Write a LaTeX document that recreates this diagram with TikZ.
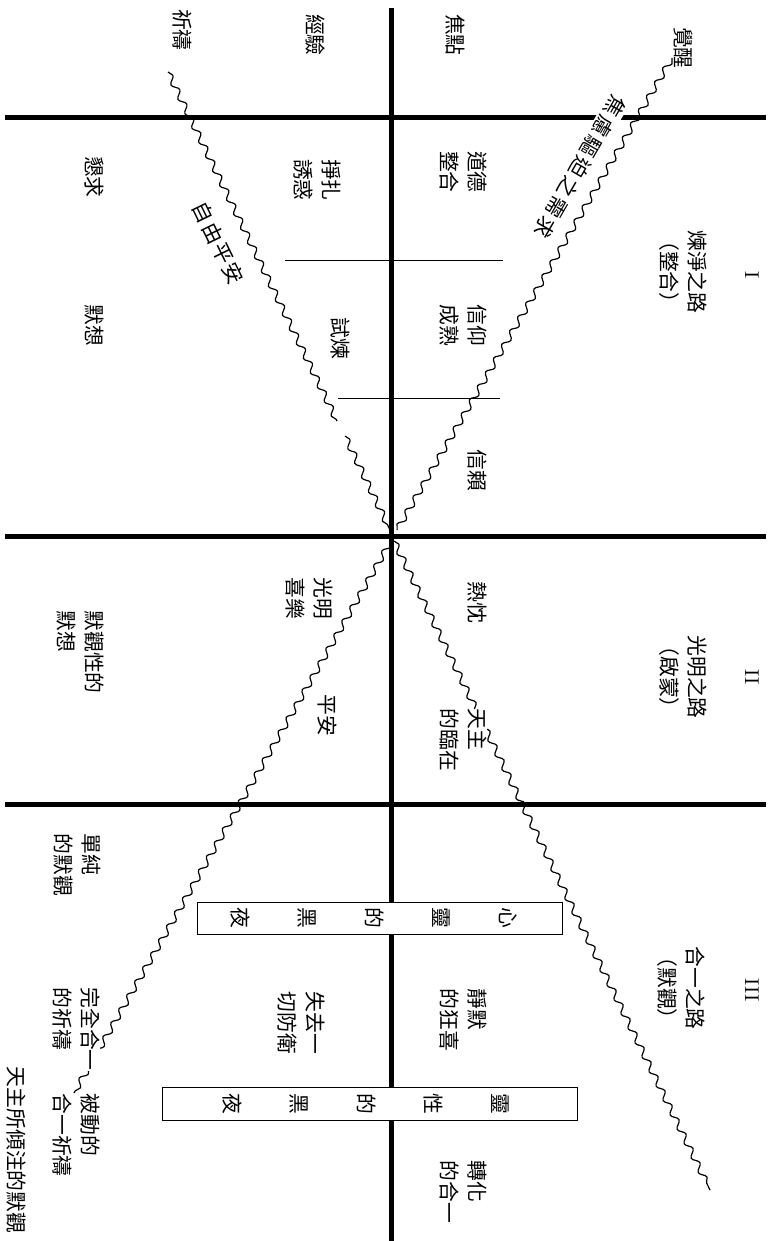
\documentclass[tikz,border=0pt]{standalone}
\usepackage{fontspec}
\newfontfamily\cjk{Noto Sans CJK TC}
\usetikzlibrary{decorations.pathmorphing}

\begin{document}
\begin{tikzpicture}[x=0.5pt, y=-0.5pt,
    bar/.style={line width=2.5pt},
    wave/.style={line width=0.6pt, decorate, decoration={snake, segment length=8pt, amplitude=1.5pt}},
    txt/.style={font=\cjk\fontsize{10.4}{14}\selectfont, inner sep=0pt},
    lbl/.style={txt, rotate=-90, align=left},
    num/.style={rotate=-90, font=\fontsize{10}{12}\selectfont, inner sep=0pt},
    nightbox/.style={rotate=-90, draw, line width=0.5pt, fill=white, inner sep=0pt},
    night/.style={rotate=-90, font=\cjk\fontsize{10.4}{33.5}\selectfont, align=center, inner sep=0pt}]
    \useasboundingbox (0,0) rectangle (769,1241);
    \draw[bar] (5,118) -- (766,118);
    \draw[bar] (5,536) -- (766,536);
    \draw[bar] (5,804) -- (766,804);
    \draw[bar] (391,8) -- (391,1241);
    \draw[line width=0.5pt] (285,260) -- (503,260);
    \draw[line width=0.4pt] (338,398) -- (500,398);
    \coordinate (ulA) at (168,72);
    \coordinate (ulB) at (337,421);
    \coordinate (ulC) at (345,436);
    \coordinate (ulD) at (390,530);
    \coordinate (urA) at (672,58);
    \coordinate (urB) at (397,530);
    \coordinate (llA) at (391,541);
    \coordinate (llB) at (74,1093);
    \coordinate (lrA) at (394,541);
    \coordinate (lrB) at (710,1190);
    \draw[wave] (ulA) -- (ulB);
    \draw[wave] (ulC) -- (ulD);
    \draw[wave] (urA) -- (urB);
    \draw[wave] (llA) -- (llB);
    \draw[wave] (lrA) -- (lrB);

    \node[lbl] (qidao) at (182,30) {祈禱};
    \node[lbl] (jingyan) at (315,35) {經驗};
    \node[lbl] (jiaodian) at (455,35) {焦點};
    \node[lbl] (juexing) at (683,48) {覺醒};
    \node[lbl] (kenqiu) at (94,177) {懇求};
    \node[lbl] (moxiang) at (94,325) {默想};
    \node[lbl] (zhengzha) at (317,180) {掙扎\\誘惑};
    \node[lbl] (shilian) at (340,338) {試煉};
    \node[lbl] (daode) at (463,172) {道德\\整合};
    \node[lbl] (xinyang) at (463,325) {信仰\\成熟};
    \node[lbl] (lianjing) at (683,272) {煉淨之路\\（整合）};
    \node[num] (one) at (752,275) {I};
    \node[txt, rotate=-120, fill=white, inner sep=1pt] (jiaolv) at (580,167) {\addfontfeature{LetterSpace=12}焦慮驅迫之需求};
    \node[txt, rotate=-64] (ziyou) at (218,243) {\addfontfeature{LetterSpace=8}自由平安};

    \node[lbl] (xinlai) at (477,470) {信賴};
    \node[lbl] (guangming) at (309,598) {光明\\喜樂};
    \node[lbl] (moguanxing) at (80,652) {默觀性的\\默想};
    \node[lbl] (rexin) at (477,602) {熱忱};
    \node[lbl] (pingan) at (327,715) {平安};
    \node[lbl, fill=white] (tianzhu) at (463,740) {天主\\的臨在};
    \node[lbl] (guangmingzhilu) at (683,677) {光明之路\\（啟蒙）};
    \node[num] (two) at (752,677) {II};

    \node[lbl] (danchun) at (77,865) {單純\\的默觀};
    \node[nightbox, minimum width=16pt, minimum height=182.5pt] (xinling) at (380,918) {};
    \node[night] (xinlingtxt) at (374,918) {心\\靈\\的\\黑\\夜};
    \node[lbl] (jingmo) at (463,1020) {靜默\\的狂喜};
    \node[lbl] (shiqu) at (301,1023) {失去一\\切防衛};
    \node[lbl, fill=white] (wanquan) at (76,1029) {完全合一\\的祈禱};
    \node[nightbox, minimum width=16.5pt, minimum height=207.5pt] (lingxing) at (370,1104) {};
    \node[night] (lingxingtxt) at (366,1104) {靈\\性\\的\\黑\\夜};
    \node[lbl] (beidong) at (76,1135) {被動的\\合一祈禱};
    \node[lbl] (tianzhusuo) at (16,1150) {天主所傾注的默觀};
    \node[lbl] (zhuanhua) at (463,1192) {轉化\\的合一};
    \node[lbl] (heyi) at (681,988) {合一之路\\（默觀）};
    \node[num] (three) at (752,990) {III};
\end{tikzpicture}
\end{document}
